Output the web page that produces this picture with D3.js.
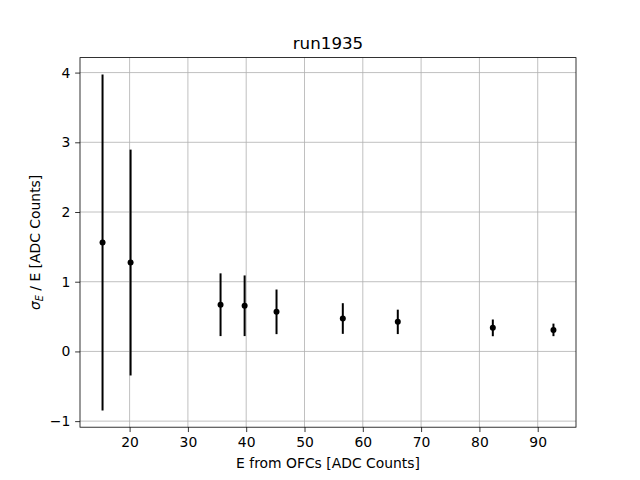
<!DOCTYPE html>
<html><head><meta charset="utf-8">
<script src="https://cdn.jsdelivr.net/npm/d3@7"></script>
<style>body{margin:0;background:#fff}svg{display:block;font-family:"DejaVu Sans",sans-serif}</style>
</head><body><svg id="c" width="640" height="480"></svg>
<script>
const energies = [15.36, 20.17, 35.6, 39.73, 45.2, 56.57, 66.0, 82.3, 92.7];
const resolution = [1.564, 1.275, 0.67, 0.655, 0.568, 0.472, 0.424, 0.338, 0.309];
const errors = [2.41, 1.62, 0.45, 0.435, 0.32, 0.22, 0.175, 0.12, 0.09];
const xTicks = [20, 30, 40, 50, 60, 70, 80, 90];
const yTicks = [-1, 0, 1, 2, 3, 4];
const title = "run1935";
const xLabel = "E from OFCs [ADC Counts]";

const svg = d3.select("#c");
const L = 80, R = 576, T = 57.6, B = 427.2;
const xmin = d3.min(energies), xmax = d3.max(energies);
const ymin = d3.min(resolution.map((v,i)=>v-errors[i])), ymax = d3.max(resolution.map((v,i)=>v+errors[i]));
const mx = (xmax-xmin)*0.05, my = (ymax-ymin)*0.05;
const x = d3.scaleLinear().domain([xmin-mx, xmax+mx]).range([L, R]);
const y = d3.scaleLinear().domain([ymin-my, ymax+my]).range([B, T]);

// grid
svg.append("g").selectAll("line").data(xTicks).join("line")
  .attr("x1", d=>x(d)).attr("x2", d=>x(d)).attr("y1", T).attr("y2", B)
  .attr("stroke", "#b0b0b0").attr("stroke-width", 0.8);
svg.append("g").selectAll("line").data(yTicks).join("line")
  .attr("y1", d=>y(d)).attr("y2", d=>y(d)).attr("x1", L).attr("x2", R)
  .attr("stroke", "#b0b0b0").attr("stroke-width", 0.8);

// axes
const xAxis = d3.axisBottom(x).tickValues(xTicks).tickSize(4.86).tickPadding(4.86).tickFormat(d3.format("d"));
const yAxis = d3.axisLeft(y).tickValues(yTicks).tickSize(4.86).tickPadding(4.86).tickFormat(d => d < 0 ? "\u2212" + Math.abs(d) : d);
const gx = svg.append("g").attr("transform", `translate(0,${B})`).call(xAxis);
const gy = svg.append("g").attr("transform", `translate(${L},0)`).call(yAxis);
[gx, gy].forEach(g => {
  g.select(".domain").remove();
  g.selectAll(".tick line").attr("stroke", "#000").attr("stroke-width", 0.8);
  g.selectAll(".tick text").attr("font-size", 13.9).attr("fill", "#000").attr("font-family", "DejaVu Sans");
});

// error bars
svg.append("g").selectAll("line").data(energies).join("line")
  .attr("x1", (d)=>x(d)).attr("x2", d=>x(d))
  .attr("y1", (d,i)=>y(resolution[i]-errors[i])).attr("y2", (d,i)=>y(resolution[i]+errors[i]))
  .attr("stroke", "#000").attr("stroke-width", 2);
svg.append("g").selectAll("circle").data(energies).join("circle")
  .attr("cx", d=>x(d)).attr("cy", (d,i)=>y(resolution[i])).attr("r", 3).attr("fill", "#000");

// frame
svg.append("rect").attr("x", L).attr("y", T).attr("width", R-L).attr("height", B-T)
  .attr("fill", "none").attr("stroke", "#000").attr("stroke-width", 0.8);

// title and labels
svg.append("text").attr("x", (L+R)/2).attr("y", 49).attr("text-anchor", "middle")
  .attr("font-size", 16.7).text(title);
svg.append("text").attr("x", (L+R)/2).attr("y", 468).attr("text-anchor", "middle")
  .attr("font-size", 13.9).text(xLabel);
const yl = svg.append("text").attr("transform", `translate(40,${(T+B)/2}) rotate(-90)`)
  .attr("text-anchor", "middle").attr("font-size", 13.9);
yl.append("tspan").attr("font-style", "italic").text("\u03C3");
yl.append("tspan").attr("font-size", 9.7).attr("dy", 3).attr("font-style", "italic").text("E");
yl.append("tspan").attr("dy", -3).text(" / E [ADC Counts]");
</script></body></html>
